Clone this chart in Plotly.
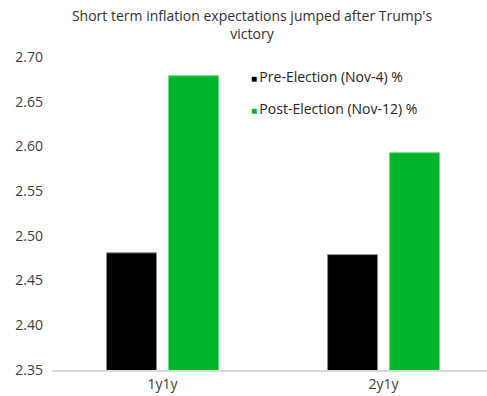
import plotly.graph_objects as go

categories = ["1y1y", "2y1y"]
pre_election = [2.481, 2.479]
post_election = [2.679, 2.593]
series_names = ["Pre-Election (Nov-4) %", "Post-Election (Nov-12) %"]
y_ticks = [2.35, 2.40, 2.45, 2.50, 2.55, 2.60, 2.65, 2.70]

BLACK = "#000000"
GREEN = "#00B52A"
FONT = "Open Sans"
TEXT = "#404040"
FS = 14

fig = go.Figure()
fig.add_trace(go.Bar(x=categories, y=pre_election, name=series_names[0],
                     marker=dict(color=BLACK, line=dict(color="#8c8c8c", width=1)),
                     showlegend=False))
fig.add_trace(go.Bar(x=categories, y=post_election, name=series_names[1],
                     marker=dict(color=GREEN, line=dict(color="#6fdc7f", width=1)),
                     showlegend=False))

# legend as text entries
for i, (nm, col) in enumerate(zip(series_names, [BLACK, GREEN])):
    fig.add_annotation(
        xref="paper", yref="paper", x=(249 - 52) / 435, y=1 - (i * 31 + 20) / 313,
        xanchor="left", yanchor="middle", showarrow=False,
        text=f"<span style='color:{col};font-size:10px'>■</span>&#8201;{nm}",
        font=dict(family=FONT, size=FS, color="#262626"),
    )

fig.update_layout(
    width=487, height=396,
    margin=dict(l=52, r=0, t=57, b=26),
    paper_bgcolor="white", plot_bgcolor="white",
    barmode="group", bargap=0.439, bargroupgap=0.194,
    title=dict(text="Short term inflation expectations jumped after Trump's<br>victory",
               x=252 / 487, xanchor="center", y=1 - 21 / 396, yanchor="top",
               font=dict(family=FONT, size=FS, color="#333333")),
    font=dict(family=FONT, size=FS, color=TEXT),
    xaxis=dict(range=[-0.5, 1.468], showline=True, linecolor="#d9d9d9", linewidth=1.5,
               ticks="", showgrid=False, zeroline=False,
               tickfont=dict(family=FONT, size=FS, color=TEXT)),
    yaxis=dict(range=[2.35, 2.70], tickvals=y_ticks, tickformat=".2f",
               showgrid=False, zeroline=False, showline=False, ticks="",
               ticklabelstandoff=8,
               tickfont=dict(family=FONT, size=FS, color=TEXT)),
)

fig.write_html("out.html")
